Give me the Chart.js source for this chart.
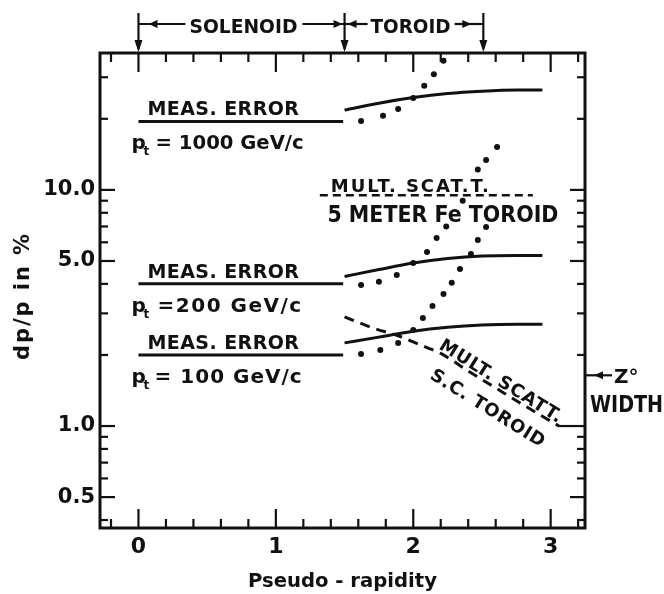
<!DOCTYPE html>
<html>
<head>
<meta charset="utf-8">
<title>dp/p vs pseudo-rapidity</title>
<script src="https://cdn.jsdelivr.net/npm/chart.js@4.4.1/dist/chart.umd.min.js"></script>
<style>
  html, body { margin: 0; padding: 0; background: #fff; }
  #wrap { width: 664px; height: 594px; position: relative; }
</style>
</head>
<body>
<div id="wrap"><canvas id="myChart"></canvas></div>
<script>
// global variables

let xTicks = [-0.2, 0, 0.2, 0.4, 0.6, 0.8, 1, 1.2, 1.4, 1.6, 1.8, 2, 2.2, 2.4, 2.6, 2.8, 3, 3.2];
let xLabeled = [0, 1, 2, 3];
let yTicks = [0.4, 0.5, 0.6, 0.7, 0.8, 0.9, 1, 2, 3, 4, 5, 6, 7, 8, 9, 10, 20, 30];
let yLabeled = [0.5, 1, 5, 10];

// measurement error, flat part (solenoid) and curve (toroid)
let flatX = [0, 1.49];
let meas1000Flat = [19.5, 19.5];
let meas200Flat = [4.0, 4.0];
let meas100Flat = [2.0, 2.0];

let curveX = [1.5, 1.75, 2.0, 2.25, 2.5, 2.75, 2.94];
let meas1000Curve = [21.8, 23.3, 24.6, 25.6, 26.2, 26.5, 26.5];
let meas200Curve = [4.3, 4.6, 4.9, 5.12, 5.25, 5.28, 5.28];
let meas100Curve = [2.25, 2.38, 2.52, 2.62, 2.68, 2.7, 2.7];

// dotted curves
let dots1000X = [1.62, 1.78, 1.89, 2.0, 2.08, 2.15, 2.22];
let dots1000Y = [19.6, 20.6, 22.0, 24.5, 27.6, 30.9, 35.2];
let dots200X = [1.62, 1.75, 1.88, 2.0, 2.1, 2.17, 2.24, 2.36, 2.47, 2.53, 2.61];
let dots200Y = [3.96, 4.08, 4.36, 4.9, 5.46, 6.26, 7.0, 9.0, 12.2, 13.4, 15.2];
let dots100X = [1.62, 1.76, 1.89, 2.0, 2.07, 2.14, 2.22, 2.28, 2.34, 2.42, 2.47, 2.53];
let dots100Y = [2.02, 2.1, 2.25, 2.55, 2.87, 3.22, 3.62, 4.04, 4.62, 5.35, 6.14, 6.97];

// multiple scattering
let feToroidX = [1.32, 2.87];
let feToroidY = [9.5, 9.5];
let scToroidX = [1.5, 1.7, 1.9, 2.0, 2.1, 2.2, 2.4, 2.6, 2.8, 3.06];
let scToroidY = [2.9, 2.61, 2.4, 2.27, 2.15, 2.03, 1.71, 1.45, 1.23, 1.0];

let zWidth = 1.64;

const ink = "#111";
const font = "'DejaVu Sans'";

// helpers

function pts(xs, ys) {
  return xs.map((x, i) => ({ x: x, y: ys[i] }));
}

function lineSet(xs, ys, width, dash) {
  return {
    data: pts(xs, ys),
    borderColor: ink,
    borderWidth: width,
    borderDash: dash || [],
    pointRadius: 0,
    tension: 0.35,
    cubicInterpolationMode: "monotone",
    fill: false,
  };
}

function dotSet(xs, ys) {
  return {
    data: pts(xs, ys),
    showLine: false,
    pointRadius: 3,
    pointBackgroundColor: ink,
    pointBorderWidth: 0,
  };
}

// bold text with optional target width (squeeze or spread the letters)
function drawText(ctx, str, x, y, size, width, align) {
  ctx.font = "bold " + size + "px " + font;
  ctx.letterSpacing = "0px";
  ctx.textAlign = align || "left";
  ctx.textBaseline = "alphabetic";
  let w = ctx.measureText(str).width;
  if (width && w < width) {
    ctx.letterSpacing = ((width - w) / str.length).toFixed(2) + "px";
    ctx.fillText(str, x, y);
  } else if (width) {
    ctx.fillText(str, x, y, width);
  } else {
    ctx.fillText(str, x, y);
  }
  ctx.letterSpacing = "0px";
}

function seg(ctx, x1, y1, x2, y2) {
  ctx.beginPath();
  ctx.moveTo(x1, y1);
  ctx.lineTo(x2, y2);
  ctx.stroke();
}

function arrowHead(ctx, tx, ty, dir) {
  let l = 9, h = 4;
  ctx.beginPath();
  ctx.moveTo(tx, ty);
  if (dir === "left") { ctx.lineTo(tx + l, ty - h); ctx.lineTo(tx + l, ty + h); }
  if (dir === "right") { ctx.lineTo(tx - l, ty - h); ctx.lineTo(tx - l, ty + h); }
  if (dir === "down") { ctx.lineTo(tx - h, ty - l - 3); ctx.lineTo(tx + h, ty - l - 3); }
  ctx.closePath();
  ctx.fill();
}

function drawPt(ctx, x, base, rest, restX, restW) {
  drawText(ctx, "p", x, base, 20);
  drawText(ctx, "t", x + 12, base + 6, 12);
  drawText(ctx, rest, restX, base, 20, restW);
}

// everything around the data: frame, inward ticks, notes
const sketchPlugin = {
  id: "sketch",
  afterDraw(chart) {
    const { ctx, chartArea: a } = chart;
    const x = chart.scales.x;
    const y = chart.scales.y;
    ctx.save();
    ctx.strokeStyle = ink;
    ctx.fillStyle = ink;

    // frame
    ctx.lineWidth = 3;
    ctx.strokeRect(a.left, a.top, a.right - a.left, a.bottom - a.top);

    // ticks pointing inward on all four sides
    ctx.lineWidth = 2.2;
    xTicks.forEach((v) => {
      let px = x.getPixelForValue(v);
      let len = xLabeled.includes(v) ? 19 : 9;
      seg(ctx, px, a.bottom, px, a.bottom - len);
      seg(ctx, px, a.top, px, a.top + len);
    });
    yTicks.forEach((v) => {
      let py = y.getPixelForValue(v);
      let len = yLabeled.includes(v) ? 15 : 8;
      seg(ctx, a.left, py, a.left + len, py);
      seg(ctx, a.right, py, a.right - (v === 1 ? 27 : len), py);
    });

    // SOLENOID / TOROID ranges above the frame
    let x0 = x.getPixelForValue(0);
    let x15 = x.getPixelForValue(1.5);
    let x25 = x.getPixelForValue(2.51);
    let ly = 24;
    [x0, x15, x25].forEach((px) => {
      seg(ctx, px, 13, px, a.top - 4);
      arrowHead(ctx, px, a.top - 1, "down");
    });
    seg(ctx, x0, ly, x0 + 47, ly);
    arrowHead(ctx, x0 + 10, ly, "left");
    drawText(ctx, "SOLENOID", x0 + 51, 33, 20, 108);
    seg(ctx, x0 + 164, ly, x15, ly);
    arrowHead(ctx, x15 - 2, ly, "right");
    seg(ctx, x15, ly, x15 + 23, ly);
    arrowHead(ctx, x15 + 3, ly, "left");
    drawText(ctx, "TOROID", x15 + 26, 33, 20, 80);
    seg(ctx, x15 + 110, ly, x25, ly);
    arrowHead(ctx, x25 - 12, ly, "right");

    // measurement error labels
    let left = x.getPixelForValue(0.065);
    let pLeft = x.getPixelForValue(-0.05);
    let y1000 = y.getPixelForValue(19.5);
    let y200 = y.getPixelForValue(4.0);
    let y100 = y.getPixelForValue(2.0);
    drawText(ctx, "MEAS. ERROR", left, y1000 - 6, 19, 152);
    drawPt(ctx, pLeft, y1000 + 28, "= 1000 GeV/c", pLeft + 24, 148);
    drawText(ctx, "MEAS. ERROR", left, y200 - 6, 19, 152);
    drawPt(ctx, pLeft, y200 + 28, "=200 GeV/c", pLeft + 26, 145);
    drawText(ctx, "MEAS. ERROR", left, y100 - 6, 19, 152);
    drawPt(ctx, pLeft, y100 + 28, "= 100 GeV/c", pLeft + 23, 148);

    // Fe toroid label
    let feLeft = x.getPixelForValue(1.4);
    let feY = y.getPixelForValue(9.5);
    drawText(ctx, "MULT. SCAT.T.", feLeft, feY - 3, 18, 160);
    drawText(ctx, "5 METER Fe TOROID", x.getPixelForValue(1.375), feY + 27, 23, 231);

    // S.C. toroid label, along the dashed line
    ctx.save();
    ctx.translate(x.getPixelForValue(2.2), y.getPixelForValue(2.03));
    ctx.rotate((32 * Math.PI) / 180);
    drawText(ctx, "MULT. SCATT.", -5, -3, 18, 142);
    drawText(ctx, "S.C. TOROID", 3, 27, 18, 132);
    ctx.restore();

    // Z width marker on the right
    let zy = y.getPixelForValue(zWidth);
    seg(ctx, a.right, zy, a.right + 27, zy);
    arrowHead(ctx, a.right + 9, zy, "left");
    drawText(ctx, "Z°", a.right + 29, zy + 8, 20);
    drawText(ctx, "WIDTH", a.right + 5, zy + 37, 23, 73);

    // axis titles
    drawText(ctx, "Pseudo - rapidity", (a.left + a.right) / 2, 587, 20, 189, "center");
    ctx.save();
    ctx.translate(29, 296);
    ctx.rotate(-Math.PI / 2);
    drawText(ctx, "dp/p in %", 0, 0, 21, 128, "center");
    ctx.restore();

    ctx.restore();
  },
};

// chart

const config = {
  type: "line",
  data: {
    datasets: [
      lineSet(flatX, meas1000Flat, 3),
      lineSet(flatX, meas200Flat, 3),
      lineSet(flatX, meas100Flat, 3),
      lineSet(curveX, meas1000Curve, 3),
      lineSet(curveX, meas200Curve, 3),
      lineSet(curveX, meas100Curve, 3),
      lineSet(feToroidX, feToroidY, 2.5, [8, 5]),
      lineSet(scToroidX, scToroidY, 3, [10, 7]),
      dotSet(dots1000X, dots1000Y),
      dotSet(dots200X, dots200Y),
      dotSet(dots100X, dots100Y),
    ],
  },
  options: {
    responsive: true,
    maintainAspectRatio: false,
    animation: false,
    layout: { padding: { top: 53, right: 79, left: 0, bottom: 0 } },
    plugins: {
      legend: { display: false },
      tooltip: { enabled: false },
    },
    scales: {
      x: {
        type: "linear",
        min: -0.28,
        max: 3.25,
        grid: { display: false, drawTicks: false },
        border: { display: false },
        afterBuildTicks: (scale) => {
          scale.ticks = xTicks.map((v) => ({ value: v }));
        },
        afterFit: (scale) => {
          scale.height = 66;
        },
        ticks: {
          autoSkip: false,
          maxRotation: 0,
          padding: 6,
          color: ink,
          font: { family: font, size: 22, weight: "bold" },
          callback: (v) => (xLabeled.includes(v) ? String(v) : ""),
        },
      },
      y: {
        type: "logarithmic",
        min: 0.37,
        max: 38,
        grid: { display: false, drawTicks: false },
        border: { display: false },
        afterBuildTicks: (scale) => {
          scale.ticks = yTicks.map((v) => ({ value: v }));
        },
        afterFit: (scale) => {
          scale.width = 100;
        },
        ticks: {
          autoSkip: false,
          padding: 5,
          color: ink,
          font: { family: font, size: 21, weight: "bold" },
          callback: (v) => (yLabeled.includes(v) ? v.toFixed(1) : ""),
        },
      },
    },
  },
  plugins: [sketchPlugin],
};

let canvasChart = document.getElementById("myChart").getContext("2d");
const myChart = new Chart(canvasChart, config);
</script>
</body>
</html>
